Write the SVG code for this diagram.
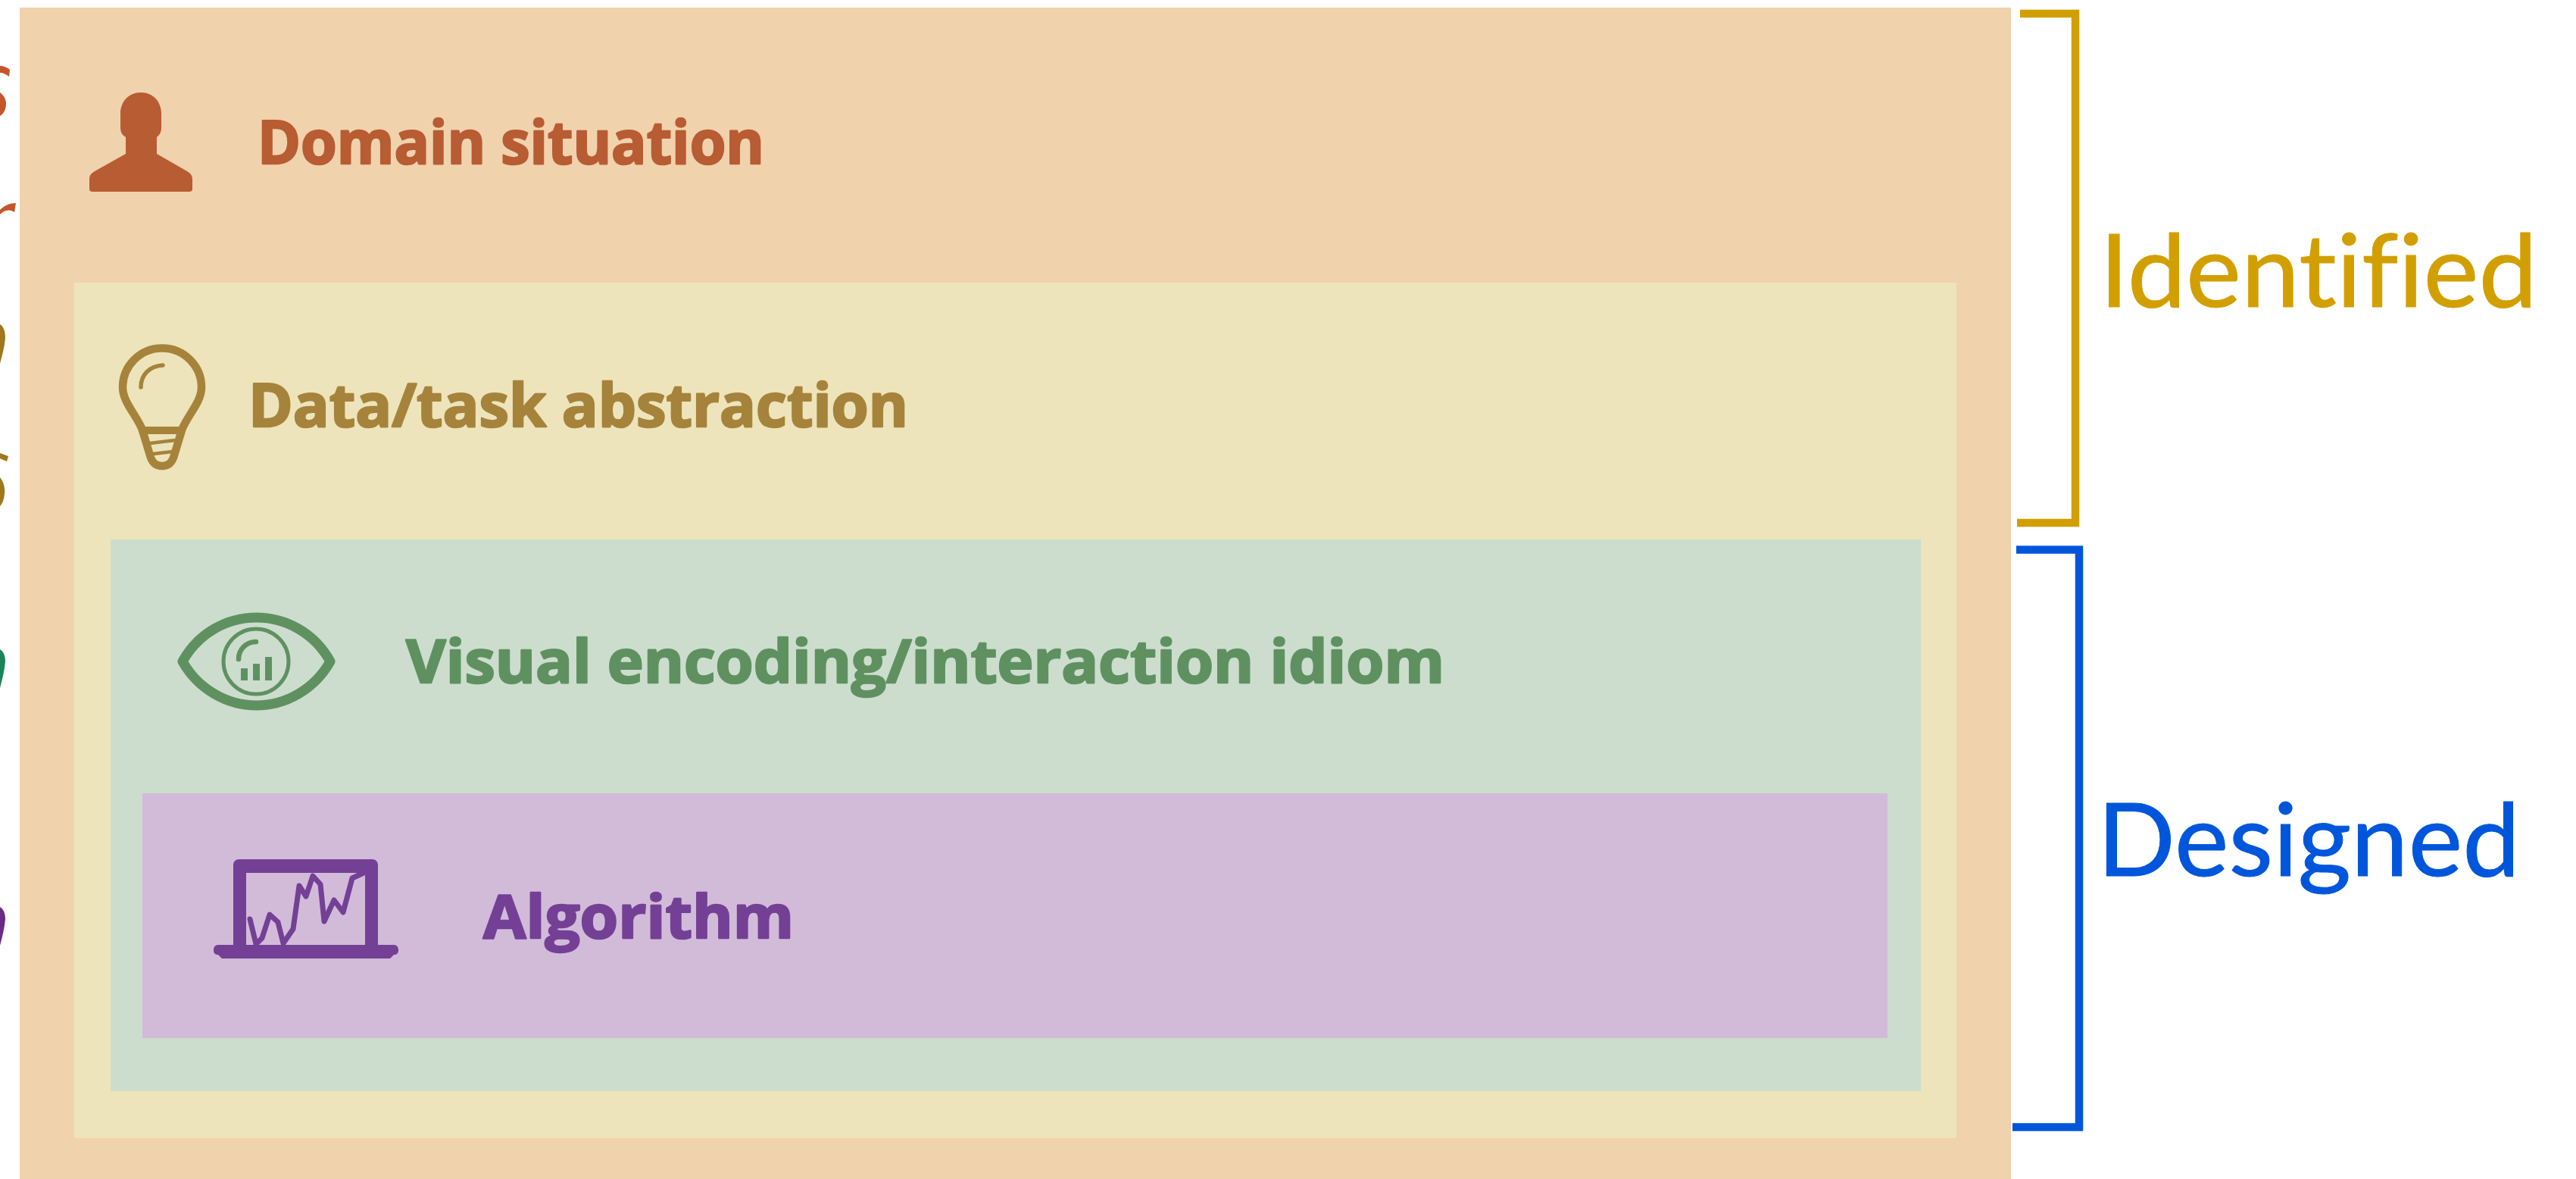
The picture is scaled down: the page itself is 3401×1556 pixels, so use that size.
<svg xmlns="http://www.w3.org/2000/svg" width="3401" height="1556" viewBox="0 0 3401 1556">
<style>
.lbl{font-family:"Open Sans","Noto Sans",sans-serif;font-weight:700;font-size:78px;stroke-width:2.500;stroke-linejoin:round}
.side{font-family:"Lato","Carlito",sans-serif;font-size:134px;font-variant-ligatures:none;stroke-width:1}
.br{fill:none;stroke-width:10.5}
</style>
<rect width="3401" height="1556" fill="#fff"/>
<g id="fragments">
<path fill="#C5562A" d="M0 87C5 87 10 89 13 92L12 101C8 98 4 96 0 96Z"/>
<path fill="#C5562A" d="M0 122C5 126 8 131 8 137C8 144 5 150 0 153Z"/>
<path fill="#C5562A" d="M0 277C6 271 13 268 21 268L19 280C12 275 5 278 0 283Z"/>
<path fill="#A0761F" d="M0 428C5 431 7 438 7 446C6 458 3 468 0 480Z"/>
<path fill="#A0761F" d="M0 598L11 602L9 609L0 605Z"/>
<path fill="#A0761F" d="M0 630C5 636 7 645 6 652C5 660 3 665 0 668Z"/>
<path fill="#1C8558" d="M0 857C5 860 7 866 7 873C6 885 3 896 0 908Z"/>
<path fill="#6A2A85" d="M0 1197C5 1200 7 1206 7 1213C6 1225 3 1236 0 1248Z"/>
</g>
<g id="domain">
<rect x="26" y="10" width="2629" height="1546" fill="#F0D2AD"/>
<path fill="#B85C33" d="M186 122C202 122 213 134 213 150V168C213 174 211 178 207 181V203L247 226C252 229 254 232 254 237V250C254 252 252 253 250 253H122C120 253 118 252 118 250V237C118 232 120 229 125 226L166 203V181C161 178 159 174 159 168V150C159 134 170 122 186 122Z"/>
<text class="lbl" x="340" y="216" fill="#B85C33" stroke="#B85C33" textLength="669" lengthAdjust="spacingAndGlyphs">Domain situation</text>
</g>
<g id="abstraction">
<rect x="98" y="373" width="2485" height="1129" fill="#EDE4BB"/>
<g fill="none" stroke="#A6833B">
<path stroke-width="10.5" d="M214 459.5C243 459.5 266 483 266 511C266 530 250 545 241 565C236 580 232 595 229 604C226 612 221 615 214 615C207 615 202 612 199 604C196 595 192 580 187 565C178 545 162 530 162 511C162 483 185 459.5 214 459.5Z"/>
<path stroke-width="10" d="M187 568H241"/>
<path stroke-width="4.5" d="M198 585L231 581M202 599L228 596"/>
<path stroke-width="5.5" stroke-linecap="round" d="M186 511C186 494 198 483 215 482"/>
</g>
<text class="lbl" x="328" y="563" fill="#A6833B" stroke="#A6833B" textLength="871" lengthAdjust="spacingAndGlyphs">Data/task abstraction</text>
</g>
<g id="idiom">
<rect x="146" y="712" width="2390" height="728" fill="#CCDDCD"/>
<g fill="none" stroke="#5F9160">
<path stroke-width="13" stroke-linejoin="round" d="M241 873C262 835 300 815 338.5 815C377 815 415 835 436 873C415 910 377 931 338.5 931C300 931 262 910 241 873Z"/>
<circle cx="338" cy="873" r="43" stroke-width="5"/>
<path stroke-width="6.5" stroke-linecap="round" d="M315 870C315 857 325 847 338 847"/>
</g>
<path fill="#5F9160" d="M318 882h9v16h-9zM334 876h9v22h-9zM350 867h9v31h-9z"/>
<text class="lbl" x="536" y="901" fill="#5F9160" stroke="#5F9160" textLength="1371" lengthAdjust="spacingAndGlyphs">Visual encoding/interaction idiom</text>
</g>
<g id="algorithm">
<rect x="188" y="1047" width="2304" height="323" fill="#D2BBD9"/>
<path fill="#744095" fill-rule="evenodd" d="M316 1134H491C496 1134 499 1137 499 1142V1247H520C524 1247 526 1250 526 1254C526 1258 524 1260 520 1260L515 1265H293L288 1260C284 1260 282 1258 282 1254C282 1250 284 1247 288 1247H308V1142C308 1137 311 1134 316 1134ZM325 1152V1247H482V1152Z"/>
<polyline fill="none" stroke="#744095" stroke-width="7" stroke-linejoin="round" stroke-linecap="round" points="330,1213 338,1246 346,1238 356,1207 367,1217 374,1245 387,1226 395,1169 404,1183 413,1156 423,1167 428,1216 441,1188 453,1204 465,1159 480,1152"/>
<text class="lbl" x="638" y="1238" fill="#744095" stroke="#744095" textLength="410" lengthAdjust="spacingAndGlyphs">Algorithm</text>
</g>
<g id="connectors">
<path class="br" stroke="#D29F00" d="M2667 18H2740V690H2663"/>
<path class="br" stroke="#0056DB" d="M2662 725.500H2745V1487.500H2657"/>
</g>
<g id="identified">
<text class="side" x="2772" y="405" fill="#D29F00" stroke="#D29F00" textLength="578" lengthAdjust="spacingAndGlyphs">Identified</text>
</g>
<g id="designed">
<text class="side" x="2769" y="1156" fill="#0056DB" stroke="#0056DB" textLength="558" lengthAdjust="spacingAndGlyphs">Designed</text>
</g>
</svg>
